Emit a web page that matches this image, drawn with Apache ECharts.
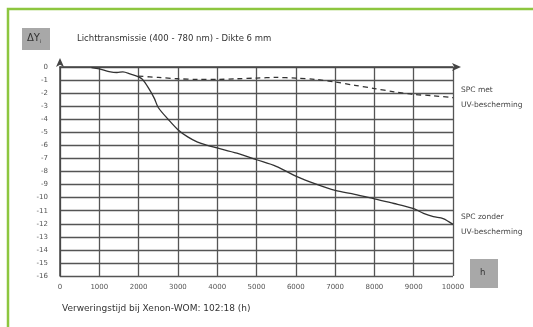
<!DOCTYPE html>
<html>
<head>
<meta charset="utf-8">
<script src="https://cdn.jsdelivr.net/npm/echarts@6/dist/echarts.min.js"></script>
<style>
  html, body { margin: 0; padding: 0; background: #fff; }
  #chart { width: 533px; height: 327px; }
</style>
</head>
<body>
<div id="chart"></div>
<script>
// Lichttransmissie, Delta Yi over verweringstijd (h)
const hoursZonder = [800, 1000, 1250, 1450, 1600, 1800, 2000, 2100, 2250, 2400, 2500, 2750, 3000, 3250, 3500, 3750, 4000, 4500, 5000, 5500, 6000, 6500, 7000, 7500, 8000, 8500, 9000, 9250, 9500, 9750, 10000];
const dyZonder = [-0.05, -0.15, -0.35, -0.42, -0.38, -0.55, -0.75, -0.95, -1.6, -2.4, -3.1, -4.0, -4.8, -5.35, -5.75, -6.0, -6.2, -6.6, -7.1, -7.6, -8.35, -8.95, -9.45, -9.75, -10.1, -10.45, -10.85, -11.2, -11.45, -11.6, -12.05];

const hoursMet = [2000, 2500, 3000, 3500, 4000, 4500, 5000, 5500, 6000, 6500, 7000, 7500, 8000, 8500, 9000, 9500, 10000];
const dyMet = [-0.7, -0.8, -0.9, -0.95, -0.95, -0.9, -0.85, -0.8, -0.85, -0.95, -1.15, -1.4, -1.65, -1.9, -2.1, -2.2, -2.35];

const seriesNames = ['SPC met\nUV-bescherming', 'SPC zonder\nUV-bescherming'];
const titleText = 'Lichttransmissie (400 - 780 nm) - Dikte 6 mm';
const footText = 'Verweringstijd bij Xenon-WOM: 102:18 (h)';

const font = 'DejaVu Sans';
const lineCol = '#333';

const myChart = echarts.init(document.getElementById('chart'), null, {renderer: 'canvas'});
const option = {
  animation: false,
  textStyle: {fontFamily: font},
  title: {
    text: titleText,
    left: 72,
    top: 29,
    textStyle: {fontSize: 8.5, fontWeight: 'normal', color: '#333', fontFamily: font}
  },
  grid: {left: 60, right: 80, top: 67, bottom: 51},
  xAxis: {
    type: 'value',
    min: 0,
    max: 10000,
    interval: 1000,
    axisLine: {
      lineStyle: {color: '#444', width: 1.5},
      symbol: ['none', 'arrow'],
      symbolSize: [6, 9],
      symbolOffset: [0, 8]
    },
    axisTick: {show: false},
    axisLabel: {fontSize: 7, color: '#555', margin: 8, formatter: (v) => String(v)},
    splitLine: {lineStyle: {color: '#555', width: 1.3}}
  },
  yAxis: {
    type: 'value',
    min: -16,
    max: 0,
    interval: 1,
    axisLine: {
      show: true,
      lineStyle: {color: '#444', width: 1.5},
      symbol: ['none', 'arrow'],
      symbolSize: [6, 9],
      symbolOffset: [0, 9]
    },
    axisTick: {show: false},
    axisLabel: {fontSize: 7, color: '#555', margin: 12},
    splitLine: {lineStyle: {color: '#555', width: 1.3}}
  },
  series: [
    {
      name: seriesNames[0],
      type: 'line',
      data: hoursMet.map((h, i) => [h, dyMet[i]]),
      showSymbol: false,
      smooth: 0.3,
      lineStyle: {color: lineCol, width: 1.3, type: [5, 4]},
      endLabel: {
        show: true,
        formatter: '{a}',
        color: '#444',
        fontSize: 7.5,
        lineHeight: 15,
        distance: 8
      }
    },
    {
      name: seriesNames[1],
      type: 'line',
      data: hoursZonder.map((h, i) => [h, dyZonder[i]]),
      showSymbol: false,
      smooth: 0.3,
      lineStyle: {color: lineCol, width: 1.3},
      endLabel: {
        show: true,
        formatter: '{a}',
        color: '#444',
        fontSize: 7.5,
        lineHeight: 15,
        distance: 8
      }
    }
  ],
  graphic: [
    {
      type: 'rect',
      silent: true,
      shape: {x: 8, y: 9, width: 600, height: 400},
      style: {fill: 'none', stroke: '#8dc63f', lineWidth: 2.5}
    },
    {
      type: 'rect',
      shape: {x: 22, y: 28, width: 28, height: 22},
      style: {fill: '#a8a8a8'}
    },
    {
      type: 'text',
      left: 27,
      top: 33,
      style: {
        text: '{m|ΔY}{s|i}',
        rich: {
          m: {fontSize: 10, fill: '#333', fontFamily: font},
          s: {fontSize: 5, fill: '#333', fontFamily: font, padding: [8, 0, 0, 0]}
        }
      }
    },
    {
      type: 'rect',
      shape: {x: 470, y: 259, width: 28, height: 29},
      style: {fill: '#a8a8a8'}
    },
    {
      type: 'text',
      left: 480,
      top: 268,
      style: {text: 'h', fontSize: 8.5, fill: '#333', fontFamily: font}
    },
    {
      type: 'text',
      left: 62,
      top: 304,
      style: {text: footText, fontSize: 9, fill: '#333', fontFamily: font}
    }
  ]
};

myChart.setOption(option);
</script>
</body>
</html>
